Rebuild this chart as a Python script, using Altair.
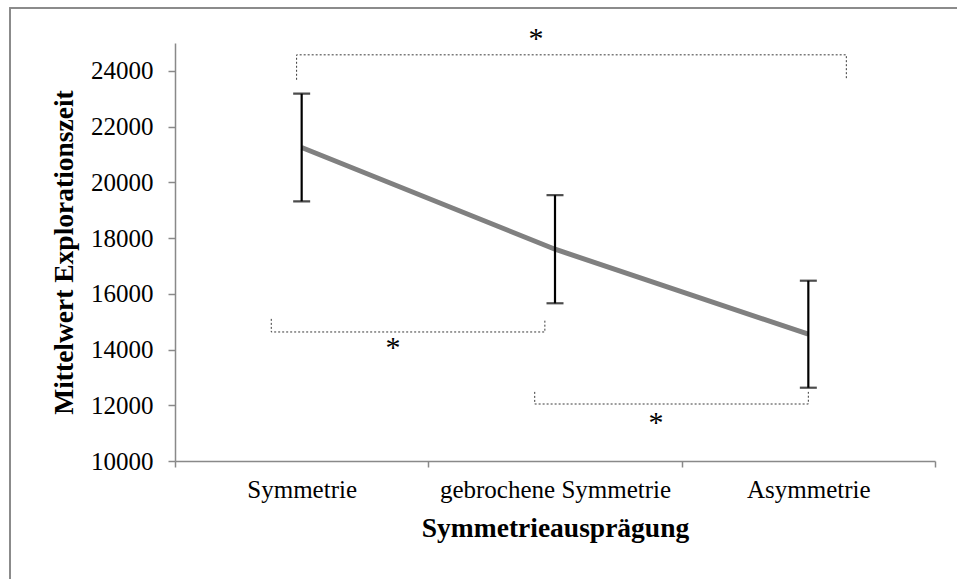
import altair as alt
import pandas as pd

# Mean exploration time per symmetry condition, with error-bar half widths
categories = ["Symmetrie", "gebrochene Symmetrie", "Asymmetrie"]
means = [21250, 17600, 14550]
errors = [1930, 1940, 1920]

# Significance brackets (x in category units 0..3, y in data units)
bracket_left = [0.48, 0.38, 1.42]
bracket_right = [2.65, 1.46, 2.50]
bracket_level = [24575, 14630, 12045]
bracket_tip = [23680, 15100, 12480]
star_x = [1.425, 0.861, 1.899]
star_y = [25160, 14060, 11380]

y_ticks = [10000, 12000, 14000, 16000, 18000, 20000, 22000, 24000]

FONT = "Liberation Serif"
AXIS_GREY = "#898989"

df = pd.DataFrame({
    "Kategorie": categories,
    "Mittelwert": means,
    "lo": [m - e for m, e in zip(means, errors)],
    "hi": [m + e for m, e in zip(means, errors)],
})

# bracket outline: tip -> level -> level -> tip
rows = []
for i in range(len(bracket_left)):
    pts = [
        (bracket_left[i], bracket_tip[i]),
        (bracket_left[i], bracket_level[i]),
        (bracket_right[i], bracket_level[i]),
        (bracket_right[i], bracket_tip[i]),
    ]
    for k, (px, py) in enumerate(pts):
        rows.append({"b": i, "k": k, "bx": px, "by": py})
brackets = pd.DataFrame(rows)
stars = pd.DataFrame({"sx": star_x, "sy": star_y, "t": ["*"] * 3})

x_cat = alt.X(
    "Kategorie:N",
    sort=categories,
    scale=alt.Scale(paddingInner=0, paddingOuter=0),
    axis=alt.Axis(
        title="Symmetrieausprägung",
        labelAngle=0,
        labelLimit=0,
        tickBand="extent",
        labelFontSize=25,
        labelPadding=10,
        titleFontSize=27.5,
        titleFontWeight="bold",
        titlePadding=12,
        tickSize=6,
    ),
)
y_val = alt.Y(
    "Mittelwert:Q",
    scale=alt.Scale(domain=[10000, 25000], nice=False, zero=False),
    axis=alt.Axis(
        title="Mittelwert Explorationszeit",
        values=y_ticks,
        format="d",
        grid=False,
        labelFontSize=25,
        labelPadding=15,
        tickSize=7,
        titleFontSize=27.5,
        titleFontWeight="bold",
        titlePadding=12,
    ),
)

base = alt.Chart(df)

line = base.mark_line(color="#808080", strokeWidth=5).encode(x=x_cat, y=y_val)
bars = base.mark_rule(color="black", strokeWidth=2.2).encode(
    x=alt.X("Kategorie:N", sort=categories), y="lo:Q", y2="hi:Q"
)
cap_lo = base.mark_tick(color="black", thickness=2.2, size=17, orient="horizontal").encode(
    x=alt.X("Kategorie:N", sort=categories), y="lo:Q"
)
cap_hi = base.mark_tick(color="black", thickness=2.2, size=17, orient="horizontal").encode(
    x=alt.X("Kategorie:N", sort=categories), y="hi:Q"
)

x_num = alt.Scale(domain=[0, 3], nice=False, zero=False)
bracket_lines = alt.Chart(brackets).mark_line(
    color="#3a3a3a", strokeWidth=1, strokeDash=[2, 2]
).encode(
    x=alt.X("bx:Q", scale=x_num, axis=None),
    y=alt.Y("by:Q"),
    detail="b:N",
    order="k:Q",
)
star_text = alt.Chart(stars).mark_text(
    font=FONT, fontSize=30, color="black", baseline="middle"
).encode(
    x=alt.X("sx:Q", scale=x_num, axis=None),
    y=alt.Y("sy:Q"),
    text="t:N",
)

frame = alt.Chart(df).mark_rect(
    fill=None, stroke=AXIS_GREY, strokeWidth=1.5, clip=False
).encode(
    x=alt.value(-165), x2=alt.value(800), y=alt.value(-35), y2=alt.value(150 + 418)
)

cat_layer = alt.layer(line, bars, cap_lo, cap_hi)
num_layer = alt.layer(bracket_lines, star_text)

chart = (
    alt.layer(frame, cat_layer, num_layer)
    .resolve_scale(x="independent")
    .properties(
        width=760,
        height=418,
        autosize=alt.AutoSizeParams(type="none"),
        padding={"left": 175, "top": 43, "right": 22, "bottom": 118},
        background="white",
    )
    .configure_view(stroke=None)
    .configure_axis(
        labelFont=FONT,
        titleFont=FONT,
        labelColor="black",
        titleColor="black",
        domainColor=AXIS_GREY,
        tickColor=AXIS_GREY,
        domainWidth=1.5,
        tickWidth=1.5,
    )
)

chart.save("out.html", embed_options={"renderer": "svg", "actions": False})
